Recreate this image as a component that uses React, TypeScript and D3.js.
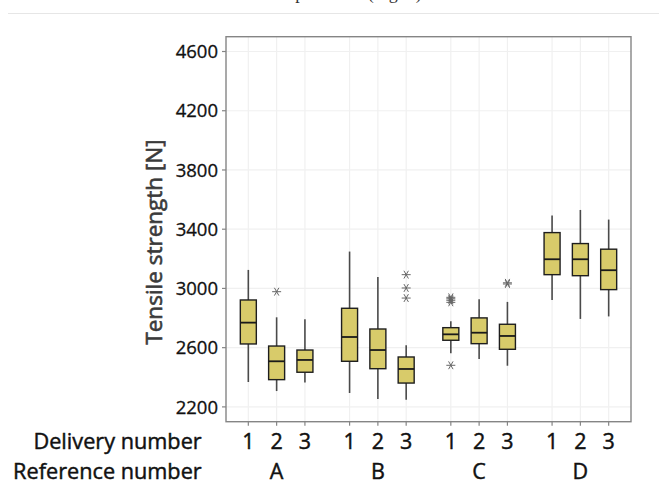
import React from "react";
import * as d3 from "d3";

const references = ["A", "B", "C", "D"];
const deliveries = ["1", "2", "3"];
// order: A1 A2 A3 B1 B2 B3 C1 C2 C3 D1 D2 D3
const whiskerLow = [2368, 2307, 2364, 2294, 2253, 2249, 2562, 2524, 2478, 2922, 2794, 2811];
const q1 = [2625, 2384, 2434, 2508, 2458, 2361, 2650, 2627, 2589, 3093, 3086, 2992];
const medians = [2769, 2508, 2517, 2672, 2584, 2456, 2690, 2701, 2679, 3197, 3197, 3123];
const q3 = [2922, 2611, 2584, 2866, 2726, 2537, 2735, 2801, 2758, 3377, 3303, 3265];
const whiskerHigh = [3125, 2805, 2792, 3249, 3078, 2616, 2778, 2927, 2909, 3492, 3530, 3465];
const outliers: number[][] = [
  [],
  [2978],
  [],
  [],
  [],
  [3093, 3003, 2935],
  [2940, 2930, 2920, 2906, 2481],
  [],
  [3030, 3038],
  [],
  [],
  [],
];
const yTicks = [2200, 2600, 3000, 3400, 3800, 4200, 4600];

const W = 659;
const H = 498;
const left = 226;
const right = 631;
const top = 36.7;
const bottom = 421.7;

export default function App() {
  const y = d3.scaleLinear().domain([2100, 4700]).range([bottom, top]);
  const xg = d3.scaleBand<string>().domain(references).range([left, right]);
  const xi = d3
    .scalePoint<string>()
    .domain(deliveries)
    .range([0, xg.bandwidth()])
    .padding(0.789);
  const boxW = 16;
  const font = "'Open Sans', 'DejaVu Sans', sans-serif";
  const semi = { stroke: "#111", strokeWidth: 0.45 };

  const boxes = references.flatMap((r, gi) =>
    deliveries.map((d, di) => {
      const i = gi * 3 + di;
      return { r, d, i, cx: (xg(r) as number) + (xi(d) as number) };
    })
  );

  const star = (cx: number, cy: number, k: string) => {
    const s = 4.5;
    const angles = [0, 60, 120];
    return (
      <g key={k} stroke="#666" strokeWidth={1}>
        {angles.map((a) => {
          const rad = (a * Math.PI) / 180;
          const dx = Math.cos(rad) * s;
          const dy = Math.sin(rad) * s;
          return <line key={a} x1={cx - dx} y1={cy - dy} x2={cx + dx} y2={cy + dy} />;
        })}
      </g>
    );
  };

  return (
    <svg
      width={W}
      height={H}
      style={{ position: "absolute", left: 0, top: 0, background: "#fff" }}
    >
      <text
        x={355}
        y={-1.5}
        textAnchor="middle"
        fontFamily="'Liberation Serif', serif"
        fontSize={18}
        fill="#333"
      >
        specimens (Fig. 4)
      </text>
      <line x1={8} x2={659} y1={13.5} y2={13.5} stroke="#e6e6e6" strokeWidth={1} />

      <rect x={left} y={top} width={right - left} height={bottom - top} fill="#fff" />
      {/* grid */}
      {yTicks.map((t) => (
        <line key={"gy" + t} x1={left} x2={right} y1={y(t)} y2={y(t)} stroke="#f0f0f0" strokeWidth={1.2} />
      ))}
      {boxes.map((b) => (
        <line key={"gx" + b.i} x1={b.cx} x2={b.cx} y1={top} y2={bottom} stroke="#f0f0f0" strokeWidth={1.2} />
      ))}

      {/* boxes */}
      {boxes.map((b) => (
        <g key={"b" + b.i}>
          <line x1={b.cx} x2={b.cx} y1={y(whiskerHigh[b.i])} y2={y(q3[b.i])} stroke="#4a4a4a" strokeWidth={1.6} />
          <line x1={b.cx} x2={b.cx} y1={y(q1[b.i])} y2={y(whiskerLow[b.i])} stroke="#4a4a4a" strokeWidth={1.6} />
          <rect
            x={b.cx - boxW / 2}
            y={y(q3[b.i])}
            width={boxW}
            height={y(q1[b.i]) - y(q3[b.i])}
            fill="#d8cb6a"
            stroke="#1e1e1e"
            strokeWidth={1.4}
          />
          <line
            x1={b.cx - boxW / 2}
            x2={b.cx + boxW / 2}
            y1={y(medians[b.i])}
            y2={y(medians[b.i])}
            stroke="#1a1a1a"
            strokeWidth={1.8}
          />
          {outliers[b.i].map((o, k) => star(b.cx, y(o), "o" + b.i + "-" + k))}
        </g>
      ))}

      <rect
        x={left}
        y={top}
        width={right - left}
        height={bottom - top}
        fill="none"
        stroke="#858585"
        strokeWidth={1.4}
      />

      {/* y axis ticks */}
      {yTicks.map((t) => (
        <g key={"yt" + t}>
          <line x1={left - 4} x2={left} y1={y(t)} y2={y(t)} stroke="#858585" strokeWidth={1.2} />
          <text
            x={218}
            y={y(t)}
            dy="0.36em"
            textAnchor="end"
            fontFamily={font}
            fontSize={18.5}
            fill="#111"
            stroke="#111"
            strokeWidth={0.3}
          >
            {t}
          </text>
        </g>
      ))}

      {/* x axis ticks */}
      {boxes.map((b) => (
        <g key={"xt" + b.i}>
          <line x1={b.cx} x2={b.cx} y1={bottom} y2={bottom + 4} stroke="#858585" strokeWidth={1.2} />
          <text x={b.cx} y={449} textAnchor="middle" fontFamily={font} fontSize={21.5} fill="#111" {...semi}>
            {b.d}
          </text>
        </g>
      ))}
      {references.map((r) => (
        <text
          key={"ref" + r}
          x={(xg(r) as number) + xg.bandwidth() / 2}
          y={478.5}
          textAnchor="middle"
          fontFamily={font}
          fontSize={21.5}
          fill="#111"
          {...semi}
        >
          {r}
        </text>
      ))}

      <text x={201.7} y={449} textAnchor="end" fontFamily={font} fontSize={21.7} fill="#111" {...semi}>
        Delivery number
      </text>
      <text x={201.7} y={478.5} textAnchor="end" fontFamily={font} fontSize={21.7} fill="#111" {...semi}>
        Reference number
      </text>

      <text
        transform={`translate(162,242) rotate(-90)`}
        textAnchor="middle"
        fontFamily={font}
        fontSize={22.5}
        fill="#3a3a3a"
        stroke="#3a3a3a"
        strokeWidth={0.6}
      >
        Tensile strength [N]
      </text>
    </svg>
  );
}
